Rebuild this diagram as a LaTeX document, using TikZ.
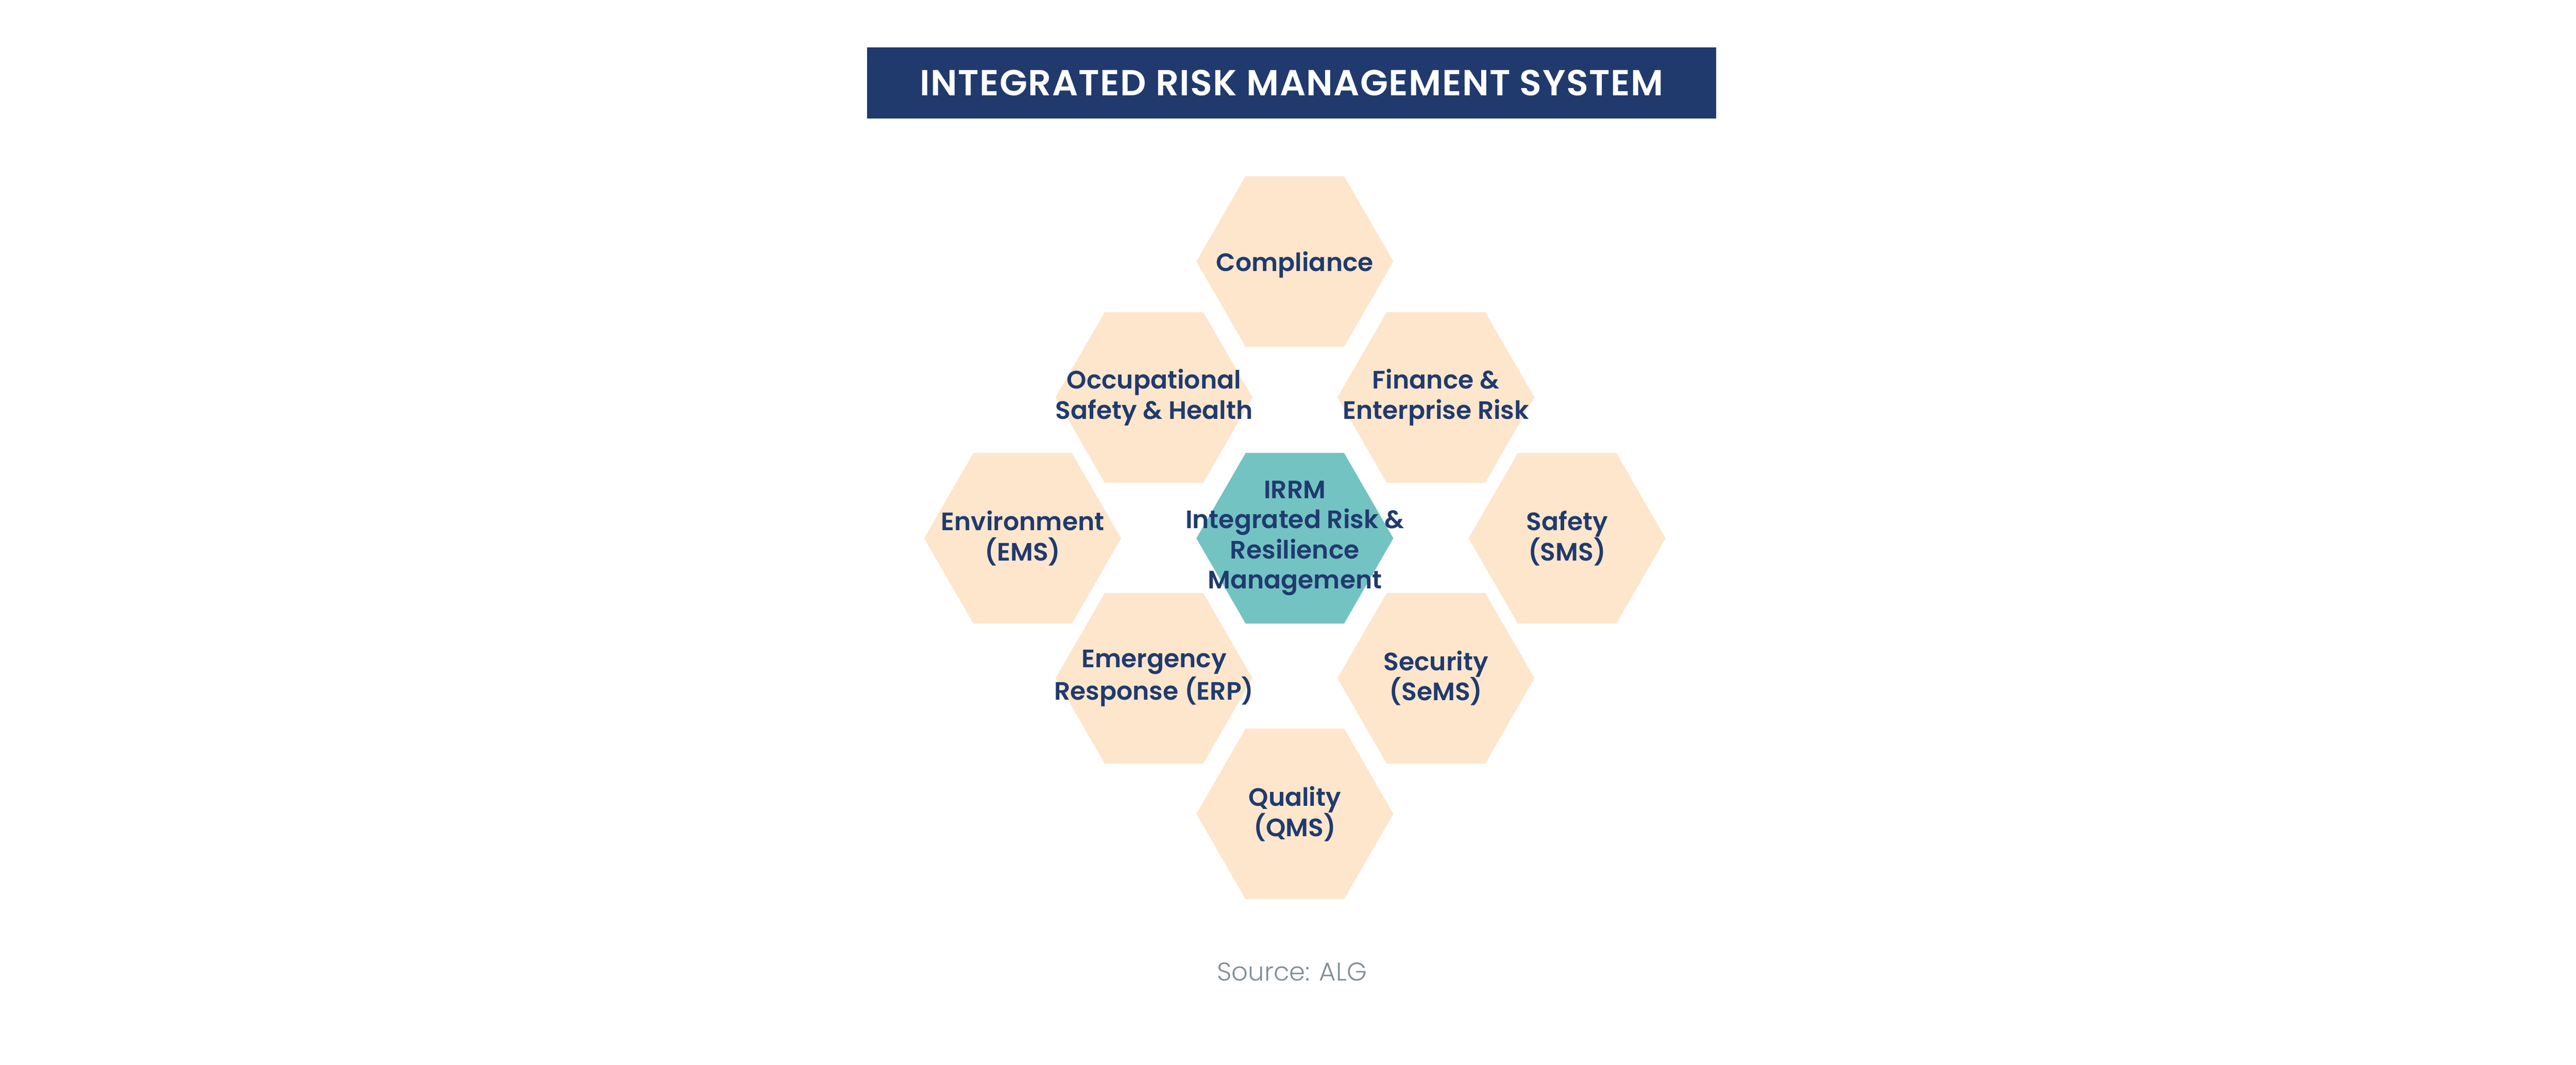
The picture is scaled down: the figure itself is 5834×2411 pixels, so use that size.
\documentclass[tikz,border=0pt]{standalone}
\usepackage{fontspec}
\setmainfont{Poppins}[BoldFont={Poppins SemiBold}]
\newfontfamily\srcfont{Poppins Light}
\newfontfamily\titlefont{Poppins SemiBold}[LetterSpace=2]
\usepackage{xcolor}
\usepackage{tikz}
\usetikzlibrary{shapes.geometric}
\definecolor{navy}{HTML}{203A6E}
\definecolor{peach}{HTML}{FDE6CB}
\definecolor{irrmteal}{HTML}{73C3C3}
\definecolor{srcgray}{HTML}{7F8E98}

\begin{document}
\begin{tikzpicture}[x=0.2pt,y=-0.2pt]
			\tikzstyle{every node}+=[inner sep=0pt, outer sep=0pt]
			\tikzstyle{hexa}=[regular polygon, regular polygon sides=6, minimum size=89.2pt, fill=peach]
			\tikzstyle{hexlabel}=[align=center, text=navy, font=\bfseries\fontsize{11.4}{13.6}\selectfont]
			\useasboundingbox (0,0) rectangle (5834,2411);
			% title bar
			\node [fill=navy, text=white, minimum width=384.4pt, minimum height=32.2pt, font=\titlefont\fontsize{16.4}{19}\selectfont] (title) at (2925,187.5) {INTEGRATED RISK MANAGEMENT SYSTEM};
			% ring of hexagons
			\node [hexa] (comp) at (2932.5,592) {};
			\node [hexlabel, yshift=-1.6pt] at (comp) {Compliance};
			\node [hexa] (occ) at (2613.5,900) {};
			\node [hexlabel] at (occ) {Occupational\\Safety \& Health};
			\node [hexa] (fin) at (3252,900) {};
			\node [hexlabel] at (fin) {Finance \&\\Enterprise Risk};
			\node [hexa] (env) at (2316,1219) {};
			\node [hexlabel] at (env) {Environment\\(EMS)};
			\node [hexa, fill=irrmteal] (irrm) at (2932.5,1219) {};
			\node [hexlabel] at (irrm) {IRRM\\Integrated Risk \&\\Resilience\\Management};
			\node [hexa] (safe) at (3549,1219) {};
			\node [hexlabel] at (safe) {Safety\\(SMS)};
			\node [hexa] (emerg) at (2613.5,1536) {};
			\node [hexlabel] at (emerg) {Emergency\\Response (ERP)};
			\node [hexa] (sec) at (3252,1536) {};
			\node [hexlabel] at (sec) {Security\\(SeMS)};
			\node [hexa] (qual) at (2932.5,1843) {};
			\node [hexlabel] at (qual) {Quality\\(QMS)};
			% source line
			\node [anchor=base, text=srcgray, font=\srcfont\fontsize{11.6}{14}\selectfont] (src) at (2926,2221) {Source: ALG};
		\end{tikzpicture}
\end{document}
